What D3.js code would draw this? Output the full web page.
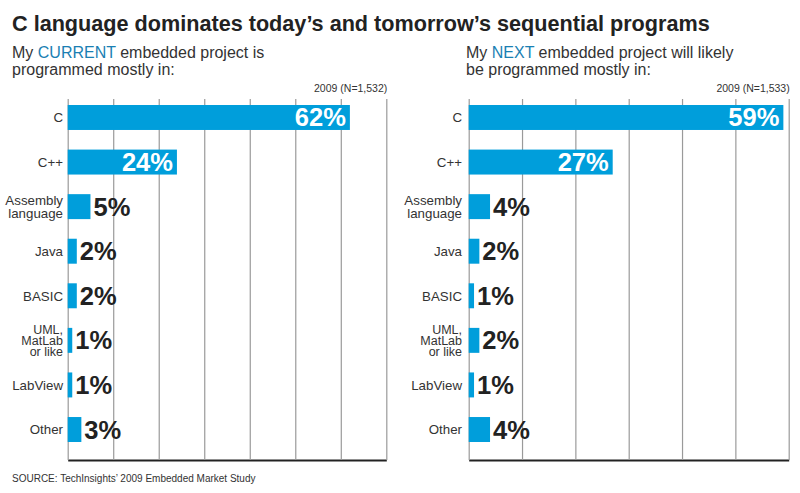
<!DOCTYPE html>
<html>
<head>
<meta charset="utf-8">
<script src="https://cdn.jsdelivr.net/npm/d3@7"></script>
<style>
  html, body { margin: 0; padding: 0; background: #fff; }
  svg { display: block; }
</style>
</head>
<body>
<svg id="chart" width="800" height="493"></svg>
<script>
// ---- Data ----
const categories = ["C", "C++", "Assembly language", "Java", "BASIC", "UML, MatLab or like", "LabView", "Other"];
const categoryLines = [["C"], ["C++"], ["Assembly", "language"], ["Java"], ["BASIC"], ["UML,", "MatLab", "or like"], ["LabView"], ["Other"]];
const currentValues = [62, 24, 5, 2, 2, 1, 1, 3];
const nextValues = [59, 27, 4, 2, 1, 2, 1, 4];
const titleText = "C language dominates today\u2019s and tomorrow\u2019s sequential programs";
const sourceText = "SOURCE: TechInsights\u2019 2009 Embedded Market Study";
const currentNote = "2009 (N=1,532)";
const nextNote = "2009 (N=1,533)";

const BLUE = "#009edb";
const TEXT_BLUE = "#1a7fb3";
const DARK = "#222";
const GREY_TEXT = "#333";
const COND = "'Liberation Sans Narrow', 'Arial Narrow', sans-serif";
const SANS = "'Liberation Sans', Arial, sans-serif";

const svg = d3.select("#chart");

// Title (font size fitted to the reference width)
const title = svg.append("text")
  .attr("x", 12).attr("y", 31)
  .attr("font-family", COND).attr("font-weight", "bold")
  .attr("font-size", 26).attr("fill", DARK)
  .text(titleText);
const tw = title.node().getComputedTextLength();
if (tw > 0) title.attr("font-size", Math.min(28, 26 * 698 / tw));

// Source
svg.append("text")
  .attr("x", 12).attr("y", 482)
  .attr("font-family", SANS).attr("font-size", 10).attr("fill", GREY_TEXT)
  .text(sourceText);

const yTop = 99, yBottom = 460;
const y = d3.scaleBand()
  .domain(categories)
  .range([95.2, 451.8])
  .paddingInner(0.44)
  .paddingOuter(0.22);

function subtitle(x, lines, keyword) {
  const t = svg.append("g");
  lines.forEach((ln, i) => {
    const tx = t.append("text")
      .attr("x", x).attr("y", 58 + i * 17)
      .attr("font-family", SANS).attr("font-size", 16).attr("fill", GREY_TEXT);
    ln.forEach(seg => {
      tx.append("tspan").attr("fill", seg === keyword ? TEXT_BLUE : GREY_TEXT).text(seg);
    });
  });
}

function panel(x0, x1, maxVal, values, note, labelX) {
  const x = d3.scaleLinear().domain([0, maxVal]).range([x0, x1]);
  const g = svg.append("g");

  // gridlines + bottom axis
  const axis = d3.axisBottom(x)
    .ticks(maxVal / 10)
    .tickSizeInner(-(yBottom - yTop))
    .tickSizeOuter(0)
    .tickFormat("");
  const ax = g.append("g").attr("transform", `translate(0,${yBottom})`).call(axis);
  ax.selectAll(".tick line").attr("stroke", "#9a9a9a").attr("stroke-width", 1.2);
  ax.select(".domain").attr("stroke", DARK).attr("stroke-width", 2.2);

  // note
  g.append("text")
    .attr("x", x1 + 1).attr("y", 92)
    .attr("text-anchor", "end")
    .attr("font-family", SANS).attr("font-size", 10.5).attr("fill", GREY_TEXT)
    .text(note);

  // bars
  g.selectAll("rect.bar").data(values).join("rect")
    .attr("class", "bar")
    .attr("x", x(0))
    .attr("y", (d, i) => y(categories[i]))
    .attr("width", d => x(d) - x(0))
    .attr("height", y.bandwidth())
    .attr("fill", BLUE);

  // value labels
  g.selectAll("text.val").data(values).join("text")
    .attr("class", "val")
    .attr("x", d => d >= 20 ? x(d) - 4 : x(d) + 3)
    .attr("y", (d, i) => y(categories[i]) + y.bandwidth() / 2 + 9)
    .attr("text-anchor", d => d >= 20 ? "end" : "start")
    .attr("font-family", COND).attr("font-weight", "bold")
    .attr("font-size", 25.5)
    .attr("fill", d => d >= 20 ? "#fff" : DARK)
    .text(d => d + "%");

  // category labels
  categories.forEach((c, i) => {
    const lines = categoryLines[i];
    const lh = lines.length === 3 ? 11.3 : 12.5;
    const fs = lines.length === 3 ? 12.5 : 13.3;
    const cy = y(c) + y.bandwidth() / 2;
    const firstBase = cy + 4.8 - (lines.length - 1) * lh / 2;
    const t = g.append("text")
      .attr("text-anchor", "end")
      .attr("font-family", SANS).attr("font-size", fs).attr("fill", GREY_TEXT);
    lines.forEach((ln, j) => {
      t.append("tspan").attr("x", labelX).attr("y", firstBase + j * lh).text(ln);
    });
  });
}

subtitle(12, [["My ", "CURRENT", " embedded project is"], ["programmed mostly in:"]], "CURRENT");
subtitle(466, [["My ", "NEXT", " embedded project will likely"], ["be programmed mostly in:"]], "NEXT");

panel(67.7, 386.3, 70, currentValues, currentNote, 63);
panel(468.7, 788.7, 60, nextValues, nextNote, 462);
</script>
</body>
</html>
